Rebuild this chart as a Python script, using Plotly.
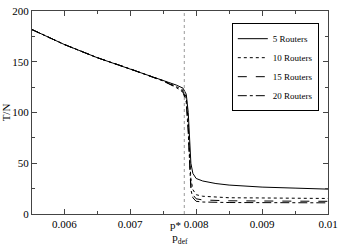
import plotly.graph_objects as go

p_def = [0.0055, 0.006, 0.0065, 0.007, 0.0075, 0.0077, 0.0078, 0.00785, 0.00788,
         0.0079, 0.00792, 0.00795, 0.008, 0.0081, 0.0083, 0.0085, 0.009, 0.0095, 0.01]
r5 = [182, 167, 154, 143, 132, 127, 124, 118, 100, 75, 50, 40, 35, 32.5, 30, 28.5, 26.5, 25.5, 24.5]
r10 = [182, 167, 154, 143, 131.5, 125.5, 122, 115, 90, 55, 35, 24, 19, 17.5, 16.5, 16, 15.8, 15.5, 15.3]
r15 = [182, 167, 154, 143, 131, 125, 121, 112, 85, 50, 28, 19, 15, 13.8, 13.3, 13, 12.8, 12.6, 12.5]
r20 = [182, 167, 154, 143, 131, 124.5, 120, 110, 80, 45, 24, 16, 12.5, 11.8, 11.5, 11.3, 11.2, 11.1, 11]
names = ["5 Routers", "10 Routers", "15 Routers", "20 Routers"]
dashes = ["solid", "dot", "dash", "dashdot"]
p_star = 0.00782

FONT = "Liberation Serif, Times New Roman, Times, serif"

fig = go.Figure()
for name, ys, d in zip(names, [r5, r10, r15, r20], dashes):
    fig.add_trace(go.Scatter(x=p_def, y=ys, mode="lines", name=name,
                             line=dict(color="black", width=1, dash=d)))

fig.add_shape(type="line", x0=p_star, x1=p_star, y0=0, y1=1, yref="paper",
              line=dict(color="#999", width=1, dash="dot"))
fig.add_annotation(x=p_star, y=0, yref="paper", text="p*", showarrow=False,
                   xanchor="right", yanchor="top", yshift=-3, xshift=-1,
                   font=dict(family=FONT, size=11, color="black"))

axis_common = dict(showgrid=False, zeroline=False, showline=True, mirror="ticks",
                   linecolor="#444", linewidth=1, ticks="inside", ticklen=5,
                   ticklabeloverflow="allow",
                   tickcolor="#444", tickfont=dict(family=FONT, size=11, color="black"))

fig.update_layout(
    width=343, height=247,
    margin=dict(l=29, r=10, t=5, b=30),
    paper_bgcolor="white", plot_bgcolor="white",
    font=dict(family=FONT, size=11, color="black"),
    showlegend=True,
    legend=dict(x=0.675, y=0.94, xanchor="left", yanchor="top",
                bordercolor="black", borderwidth=1, bgcolor="white",
                font=dict(family=FONT, size=9, color="black"),
                tracegroupgap=0, itemwidth=30),
    xaxis=dict(range=[0.00551, 0.01], tickvals=[0.006, 0.007, 0.008, 0.009, 0.01],
               ticktext=["0.006", "0.007", "0.008", "0.009", "0.01"],
               minor=dict(ticks="inside", ticklen=3, dtick=0.0005, tick0=0.0055, tickcolor="#444"),
               title=dict(text="p<sub>def</sub>", standoff=4,
                          font=dict(family=FONT, size=11)),
               **axis_common),
    yaxis=dict(range=[0, 200], tickvals=[0, 50, 100, 150, 200],
               minor=dict(ticks="inside", ticklen=3, dtick=25, tickcolor="#444"),
               title=dict(text="T/N", standoff=0,
                          font=dict(family=FONT, size=11)),
               **axis_common),
)

fig.write_html("out.html", config={"displayModeBar": False},
               post_script="document.body.style.margin='0';document.body.style.padding='0';")
